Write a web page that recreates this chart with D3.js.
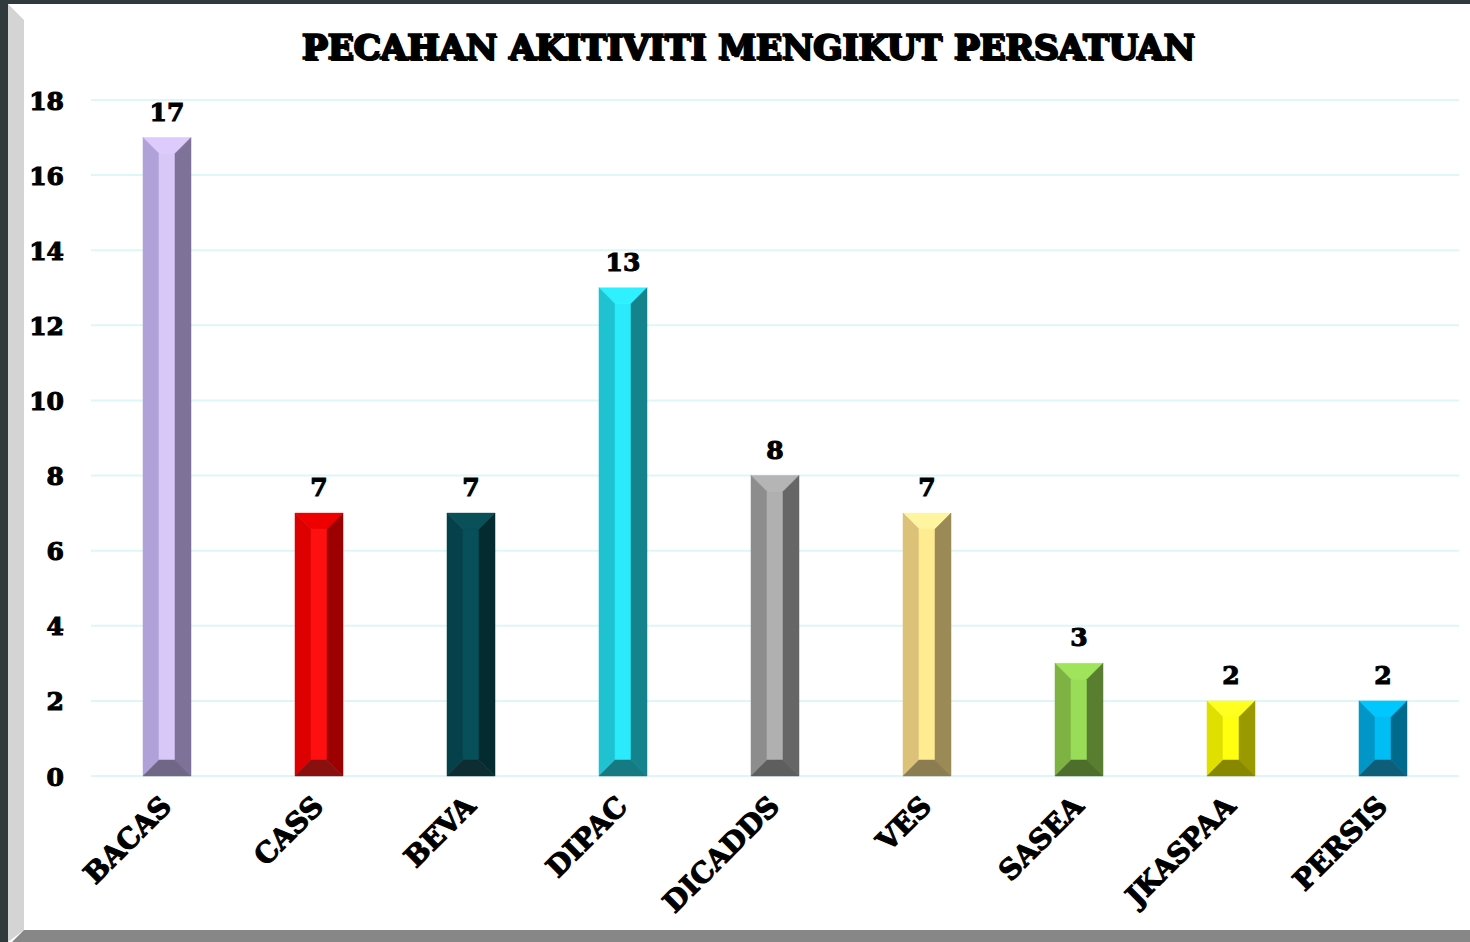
<!DOCTYPE html>
<html lang="ms">
<head>
<meta charset="UTF-8">
<title>Pecahan aktiviti mengikut persatuan</title>
<script src="https://cdn.jsdelivr.net/npm/d3@7/dist/d3.min.js"></script>
<style>
	html, body { margin: 0; padding: 0; background: #fff; }
	svg { display: block; }
	text { font-family: "DejaVu Serif", "Liberation Serif", serif; font-weight: bold; fill: #000; }
</style>
</head>
<body>
<div id="chart"></div>
<script>
// data
let categories = ['BACAS', 'CASS', 'BEVA', 'DIPAC', 'DICADDS', 'VES', 'SASEA', 'JKASPAA', 'PERSIS'];
let values = [17, 7, 7, 13, 8, 7, 3, 2, 2];
let yTicks = [0, 2, 4, 6, 8, 10, 12, 14, 16, 18];
let title = 'PECAHAN AKITIVITI MENGIKUT PERSATUAN';

// bevel faces per bar: top, left, centre, right, bottom
let faceColors = [
	['#dccbfc', '#b0a2d8', '#d8c8f8', '#7e7299', '#706786'],
	['#ee0000', '#dc0000', '#ff1010', '#9c0000', '#8a1010'],
	['#0a5058', '#05414a', '#07505a', '#032b30', '#0e2d33'],
	['#2ef0fe', '#1ec2d0', '#2aeafc', '#15838c', '#157a82'],
	['#b5b5b5', '#8d8d8d', '#b0b0b0', '#666666', '#5e5e5e'],
	['#fff4a0', '#dcc278', '#ffec90', '#9c8a56', '#8c7c52'],
	['#a0e45c', '#7eb242', '#98dc58', '#5a7e30', '#4e6e2c'],
	['#ffff20', '#e0e000', '#ffff10', '#9a9a00', '#888800'],
	['#00c8ff', '#0096c8', '#00bef4', '#006a8c', '#0e5e7a']
];

let width = 1470, height = 942;
let plot = { left: 91, right: 1459, top: 100, bottom: 776 };
let barWidth = 48, bevel = 16;

let svg = d3.select('#chart').append('svg')
	.attr('width', width)
	.attr('height', height);

// frame
svg.append('rect').attr('x', 0).attr('y', 0).attr('width', width).attr('height', height).attr('fill', '#fff');
svg.append('polygon').attr('points', '8,4 24,20 24,930 8,942').attr('fill', '#d4d4d4');
svg.append('polygon').attr('points', '24,930 1470,930 1470,942 12,942').attr('fill', '#878787');
svg.append('rect').attr('x', 0).attr('y', 0).attr('width', width).attr('height', 4).attr('fill', '#30393c');
svg.append('rect').attr('x', 0).attr('y', 0).attr('width', 8).attr('height', height).attr('fill', '#30393c');

let x = d3.scaleBand().domain(categories).range([plot.left, plot.right]);
let y = d3.scaleLinear().domain([0, 18]).range([plot.bottom, plot.top]);

// gridlines
svg.append('g').selectAll('line').data(yTicks).enter().append('line')
	.attr('x1', plot.left).attr('x2', plot.right)
	.attr('y1', d => y(d)).attr('y2', d => y(d))
	.attr('stroke', '#dff6f6').attr('stroke-width', 2);

// y axis labels
let yAxis = svg.append('g')
	.attr('transform', `translate(${plot.left - 27},0)`)
	.call(d3.axisLeft(y).tickValues(yTicks).tickSize(0).tickPadding(0));
yAxis.select('.domain').remove();
yAxis.selectAll('text')
	.attr('font-size', 25)
	.attr('font-family', '"DejaVu Serif", serif')
	.attr('font-weight', 'bold')
	.attr('fill', '#000')
	.attr('stroke', '#000').attr('stroke-width', 1.1)
	.attr('dy', '0.36em');

// beveled bars
let bars = svg.append('g').selectAll('g').data(values).enter().append('g');
bars.each(function (d, i) {
	let g = d3.select(this);
	let cx = x(categories[i]) + x.bandwidth() / 2;
	let x0 = cx - barWidth / 2, x1 = cx + barWidth / 2;
	let y0 = y(d), y1 = y(0);
	let c = faceColors[i];
	let faces = [
		[[x0, y0], [x1, y0], [x1 - bevel, y0 + bevel], [x0 + bevel, y0 + bevel]],
		[[x0, y0], [x0 + bevel, y0 + bevel], [x0 + bevel, y1 - bevel], [x0, y1]],
		[[x0 + bevel, y0 + bevel], [x1 - bevel, y0 + bevel], [x1 - bevel, y1 - bevel], [x0 + bevel, y1 - bevel]],
		[[x1, y0], [x1, y1], [x1 - bevel, y1 - bevel], [x1 - bevel, y0 + bevel]],
		[[x0, y1], [x0 + bevel, y1 - bevel], [x1 - bevel, y1 - bevel], [x1, y1]]
	];
	g.selectAll('polygon').data(faces).enter().append('polygon')
		.attr('points', f => f.map(p => p.join(',')).join(' '))
		.attr('fill', (f, k) => c[k])
		.attr('stroke', (f, k) => c[k]).attr('stroke-width', 0.5);
});

// value labels
svg.append('g').selectAll('text').data(values).enter().append('text')
	.attr('x', (d, i) => x(categories[i]) + x.bandwidth() / 2)
	.attr('y', d => y(d) - 17)
	.attr('text-anchor', 'middle')
	.attr('font-size', 25)
	.attr('stroke', '#000').attr('stroke-width', 1.1)
	.text(d => d);

// category labels
svg.append('g').selectAll('text').data(categories).enter().append('text')
	.attr('transform', d => `translate(${x(d) + x.bandwidth() / 2 + 6},${plot.bottom + 32}) rotate(-45)`)
	.attr('text-anchor', 'end')
	.attr('font-size', 28)
	.attr('stroke', '#000').attr('stroke-width', 1.1)
	.text(d => d);

// title with faint shadow
svg.append('text')
	.attr('x', 750).attr('y', 61)
	.attr('text-anchor', 'middle')
	.attr('font-size', 33)
	.attr('fill', '#999')
	.attr('textLength', 893).attr('lengthAdjust', 'spacingAndGlyphs')
	.text(title);
svg.append('text')
	.attr('x', 748).attr('y', 59)
	.attr('text-anchor', 'middle')
	.attr('font-size', 33)
	.attr('stroke', '#000').attr('stroke-width', 1.3)
	.attr('textLength', 893).attr('lengthAdjust', 'spacingAndGlyphs')
	.text(title);
</script>
</body>
</html>
